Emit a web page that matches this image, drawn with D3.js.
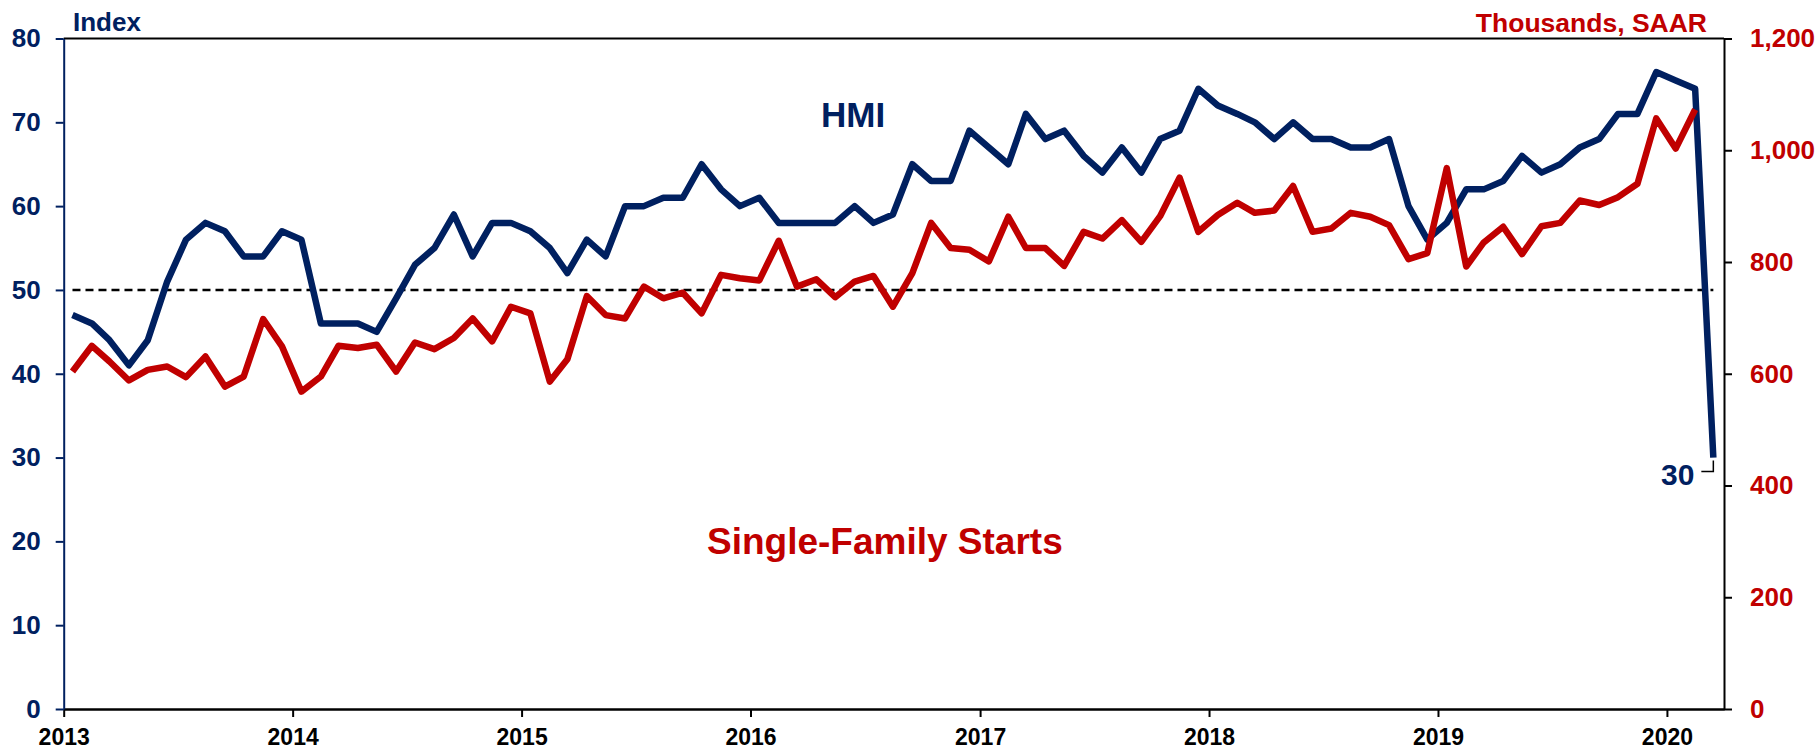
<!DOCTYPE html>
<html>
<head>
<meta charset="utf-8">
<script src="https://cdn.jsdelivr.net/npm/d3@7"></script>
<style>
  body { margin: 0; background: #fff; }
  text { font-family: "Liberation Sans", Arial, sans-serif; font-weight: bold; }
</style>
</head>
<body>
<div id="chart"></div>
<script>
// NAHB housing market index (left axis) vs single-family starts (right axis), monthly from Jan 2013
const hmiValues = [
  47, 46, 44, 41, 44, 51, 56, 58, 57, 54, 54, 57,
  56, 46, 46, 46, 45, 49, 53, 55, 59, 54, 58, 58,
  57, 55, 52, 56, 54, 60, 60, 61, 61, 65, 62, 60,
  61, 58, 58, 58, 58, 60, 58, 59, 65, 63, 63, 69,
  67, 65, 71, 68, 69, 66, 64, 67, 64, 68, 69, 74,
  72, 71, 70, 68, 70, 68, 68, 67, 67, 68, 60, 56,
  58, 62, 62, 63, 66, 64, 65, 67, 68, 71, 71, 76,
  75, 74, 30
];
const startsValues = [
  604, 650, 622, 588, 607, 613, 594, 631, 577, 595, 698, 649,
  568, 595, 650, 646, 652, 604, 656, 644, 664, 699, 658, 720,
  708, 586, 626, 739, 705, 699, 756, 735, 745, 708, 777, 771,
  767, 838, 756, 769, 737, 765, 775, 720, 780, 870, 825, 822,
  801, 881, 825, 825, 793, 854, 842, 875, 836, 882, 951, 854,
  884, 906, 888, 892, 936, 854, 860, 888, 881, 866, 805, 816,
  968, 792, 835, 863, 814, 864, 870, 910, 902, 916, 940, 1057,
  1003, 1073
];
const yearTicks = [2013, 2014, 2015, 2016, 2017, 2018, 2019, 2020];
const leftTicks = [0, 10, 20, 30, 40, 50, 60, 70, 80];
const rightTicks = [0, 200, 400, 600, 800, 1000, 1200];
const neutralLevel = 50;

const width = 1817, height = 753;
const navy = "#002060", red = "#c00000";
const plotLeft = 63.7, plotRight = 1724, plotTop = 38.5, plotBottom = 709;

// points sit at mid-month
const dateOf = i => new Date(2013, i, 15);

let x = d3.scaleTime()
  .domain([new Date(2013, 0, 1), new Date(2020, 3, 1)])
  .range([plotLeft, plotRight]);
let yL = d3.scaleLinear().domain([0, 80]).range([plotBottom, plotTop]);
let yR = d3.scaleLinear().domain([0, 1200]).range([plotBottom, plotTop]);

const svg = d3.select("#chart").append("svg")
  .attr("width", width)
  .attr("height", height);

svg.append("rect").attr("width", width).attr("height", height).attr("fill", "#fff");

// top frame line
svg.append("line")
  .attr("x1", plotLeft).attr("x2", plotRight)
  .attr("y1", plotTop).attr("y2", plotTop)
  .attr("stroke", "#000").attr("stroke-width", 2);

// axes
let xAxis = svg.append("g")
  .attr("transform", `translate(0,${plotBottom})`)
  .call(d3.axisBottom(x)
    .tickValues(yearTicks.map(y => new Date(y, 0, 1)))
    .tickFormat(d3.timeFormat("%Y"))
    .tickSize(8).tickSizeOuter(0).tickPadding(12));
xAxis.select(".domain").attr("stroke", "#000").attr("stroke-width", 2.5);
xAxis.selectAll(".tick line").attr("stroke", "#000").attr("stroke-width", 2);
xAxis.selectAll(".tick text").attr("fill", "#000").style("font-size", "23px");

let leftAxis = svg.append("g")
  .attr("transform", `translate(${plotLeft},0)`)
  .call(d3.axisLeft(yL).tickValues(leftTicks).tickSize(8).tickSizeOuter(0).tickPadding(15));
leftAxis.select(".domain").attr("stroke", navy).attr("stroke-width", 2);
leftAxis.selectAll(".tick line").attr("stroke", navy).attr("stroke-width", 2);
leftAxis.selectAll(".tick text").attr("fill", navy).style("font-size", "26px");

let rightAxis = svg.append("g")
  .attr("transform", `translate(${plotRight},0)`)
  .call(d3.axisRight(yR).tickValues(rightTicks).tickFormat(d3.format(",")).tickSize(8).tickSizeOuter(0).tickPadding(18));
rightAxis.select(".domain").attr("stroke", "#000").attr("stroke-width", 2);
rightAxis.selectAll(".tick line").attr("stroke", "#000").attr("stroke-width", 2);
rightAxis.selectAll(".tick text").attr("fill", red).style("font-size", "26px");

// 50 = neutral line
svg.append("line")
  .attr("x1", x(dateOf(0))).attr("x2", x(dateOf(hmiValues.length - 1)))
  .attr("y1", yL(neutralLevel)).attr("y2", yL(neutralLevel))
  .attr("stroke", "#000").attr("stroke-width", 2.5)
  .attr("stroke-dasharray", "8,5");

let hmiLine = d3.line().x((d, i) => x(dateOf(i))).y(d => yL(d));
let startsLine = d3.line().x((d, i) => x(dateOf(i))).y(d => yR(d));

svg.append("path")
  .datum(hmiValues)
  .attr("d", hmiLine)
  .attr("fill", "none").attr("stroke", navy).attr("stroke-width", 6.5)
  .attr("stroke-linejoin", "round");

svg.append("path")
  .datum(startsValues)
  .attr("d", startsLine)
  .attr("fill", "none").attr("stroke", red).attr("stroke-width", 6.5)
  .attr("stroke-linejoin", "round");

// labels
svg.append("text").attr("x", 73).attr("y", 31).attr("fill", navy)
  .style("font-size", "26px").text("Index");
svg.append("text").attr("x", 1707).attr("y", 32).attr("fill", red)
  .attr("text-anchor", "end").style("font-size", "26.5px").text("Thousands, SAAR");
svg.append("text").attr("x", 821).attr("y", 127).attr("fill", navy)
  .style("font-size", "35px").text("HMI");
svg.append("text").attr("x", 707).attr("y", 554).attr("fill", red)
  .style("font-size", "37px").text("Single-Family Starts");

// callout for the latest HMI reading
let lastI = hmiValues.length - 1;
let px = x(dateOf(lastI)), py = yL(hmiValues[lastI]);
svg.append("path")
  .attr("d", `M${px - 12},${py + 14}H${px}V${py + 3}`)
  .attr("fill", "none").attr("stroke", "#000").attr("stroke-width", 1.5);
svg.append("text").attr("x", px - 19).attr("y", py + 27).attr("fill", navy)
  .attr("text-anchor", "end").style("font-size", "30px").text(hmiValues[lastI]);
</script>
</body>
</html>
